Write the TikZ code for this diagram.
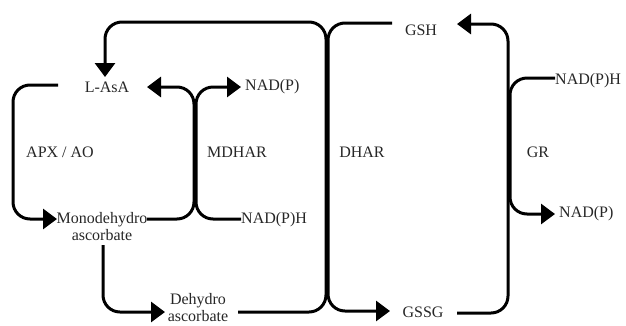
\documentclass[tikz,border=0pt]{standalone}
\usepackage{fontspec}
\setmainfont{Liberation Serif}
\usetikzlibrary{arrows.meta}
\begin{document}
\begin{tikzpicture}[x=1pt,y=-1pt,
  lbl/.style={inner sep=0pt,font=\fontsize{16}{17}\selectfont,text=black!85},
  flow/.style={line width=3pt,rounded corners=17pt},
  arr/.style={flow,-{Triangle[length=14pt,width=20pt]}}]
\useasboundingbox (0,0) rectangle (626,325);
% labels
\node[lbl] (asa) at (107,87) {L-AsA};
\node[lbl,anchor=west] (nadp1) at (245,87) {NAD(P)};
\node[lbl] (apx) at (60,152) {APX / AO};
\node[lbl] (mdhar) at (237,152) {MDHAR};
\node[lbl] (dhar) at (362,152) {DHAR};
\node[lbl] (gr) at (538,152) {GR};
\node[lbl] (gsh) at (421,30) {GSH};
\node[lbl,anchor=west] (nadph2) at (555,81) {NAD(P)H};
\node[lbl,anchor=west] (nadp2) at (559,214) {NAD(P)};
\node[lbl,anchor=west] (nadph1) at (241,220) {NAD(P)H};
\node[lbl,align=center] (mono) at (102,227) {Monodehydro\\ascorbate};
\node[lbl,align=center] (dehy) at (198,308) {Dehydro\\ascorbate};
\node[lbl] (gssg) at (423,312) {GSSG};
% coordinates
\coordinate (a1) at (58,85);
\coordinate (a2) at (57,219);
\coordinate (m1) at (147,219);
\coordinate (m2) at (147,87);
\coordinate (m3) at (241,219);
\coordinate (m4) at (241,87);
\coordinate (d0) at (103,245);
\coordinate (d1) at (165,312);
\coordinate (h1) at (238,312);
\coordinate (h2) at (105,77);
\coordinate (g1) at (392,23);
\coordinate (g2) at (390,311);
\coordinate (r1) at (457,313);
\coordinate (r2) at (457,24);
\coordinate (n1) at (555,78);
\coordinate (n2) at (555,214);
% APX / AO
\draw[arr] (a1) -- (13,85) -- (13,219) -- (a2);
% MDHAR
\draw[arr] (m1) -- (194,219) -- (194,87) -- (m2);
\draw[arr] (m3) -- (196,219) -- (196,87) -- (m4);
% mono -> dehydro
\draw[arr] (d0) -- (103,312) -- (d1);
% DHAR
\draw[arr] (h1) -- (326,312) -- (326,22) -- (105,22) -- (h2);
\draw[arr] (g1) -- (328,23) -- (328,311) -- (g2);
% GR
\draw[arr] (r1) -- (508,313) -- (508,24) -- (r2);
\draw[arr] (n1) -- (510,78) -- (510,214) -- (n2);
\end{tikzpicture}
\end{document}
